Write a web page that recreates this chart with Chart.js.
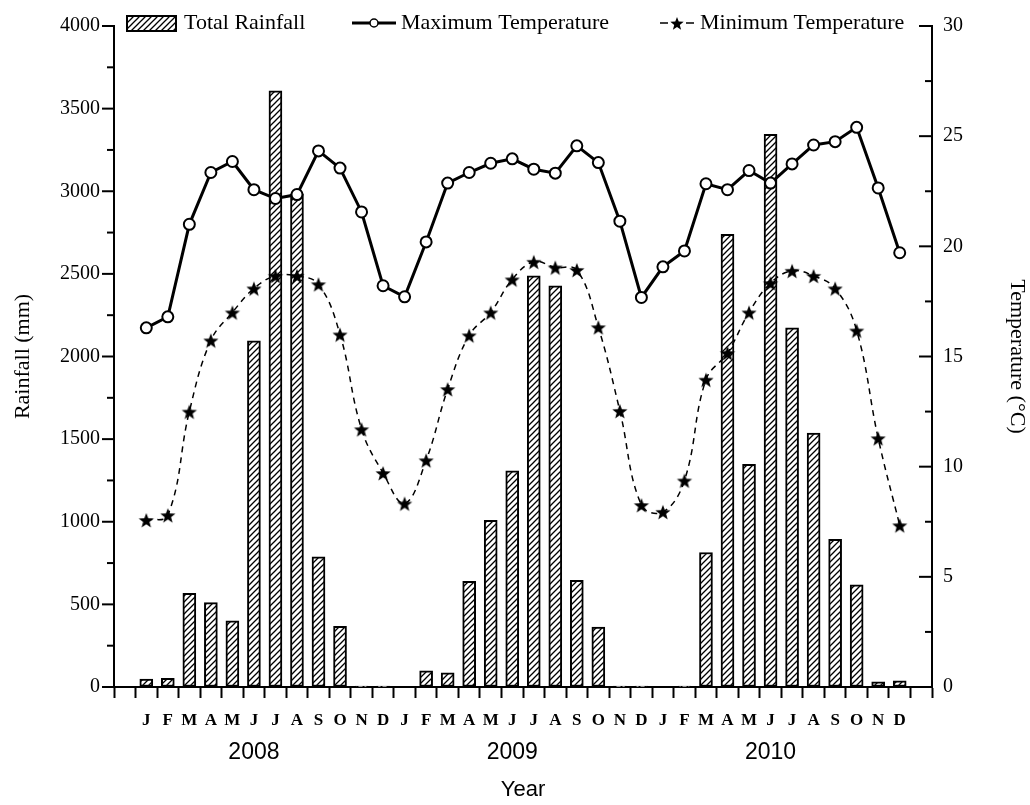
<!DOCTYPE html>
<html>
<head>
<meta charset="utf-8">
<script src="https://cdn.jsdelivr.net/npm/chart.js@4.4.0/dist/chart.umd.min.js"></script>
<style>
  html, body { margin: 0; padding: 0; background: #fff; }
</style>
</head>
<body>
<canvas id="main_chart" width="1030" height="805"></canvas>
<script>
const month_letters = ['J', 'F', 'M', 'A', 'M', 'J', 'J', 'A', 'S', 'O', 'N', 'D'];
const years = ['2008', '2009', '2010'];

// monthly totals, mm (Jan 2008 .. Dec 2010)
const rainfall = [
  48, 52, 567, 511, 401, 2095, 3607, 2985, 788, 367, 5, 5,
  0, 98, 86, 640, 1009, 1308, 2488, 2428, 646, 363, 5, 5,
  0, 5, 814, 2740, 1347, 3344, 2173, 1536, 894, 619, 32, 38,
];

// °C
const max_temp = [
  16.3, 16.8, 21.0, 23.35, 23.85, 22.57, 22.17, 22.35, 24.33, 23.55, 21.56, 18.21,
  17.71, 20.2, 22.87, 23.35, 23.77, 23.97, 23.5, 23.32, 24.56, 23.8, 21.14, 17.68,
  19.07, 19.79, 22.84, 22.57, 23.44, 22.87, 23.74, 24.6, 24.75, 25.4, 22.65, 19.71,
];

const min_temp = [
  7.58, 7.8, 12.5, 15.73, 17.0, 18.09, 18.66, 18.66, 18.28, 16.0, 11.7, 9.71,
  8.33, 10.29, 13.52, 15.96, 17.0, 18.5, 19.3, 19.04, 18.93, 16.33, 12.53, 8.26,
  7.95, 9.37, 13.95, 15.16, 17.0, 18.33, 18.89, 18.66, 18.09, 16.18, 11.29, 7.34,
];

const serif = 'Liberation Serif';
const sans = 'Liberation Sans';

Chart.defaults.font.family = serif;
Chart.defaults.color = '#000';

const make_hatch = (ctx) => {
  const c = document.createElement('canvas');
  c.width = 6;
  c.height = 6;
  const g = c.getContext('2d');
  g.fillStyle = '#fff';
  g.fillRect(0, 0, 6, 6);
  g.strokeStyle = '#000';
  g.lineWidth = 1.3;
  g.beginPath();
  g.moveTo(0, 6); g.lineTo(6, 0);
  g.moveTo(-3, 3); g.lineTo(3, -3);
  g.moveTo(3, 9); g.lineTo(9, 3);
  g.stroke();
  return ctx.createPattern(c, 'repeat');
};

const make_star = (r) => {
  const size = Math.ceil(r * 2 + 2);
  const c = document.createElement('canvas');
  c.width = size;
  c.height = size;
  const g = c.getContext('2d');
  g.fillStyle = '#000';
  g.beginPath();
  for (let k = 0; k < 10; k++) {
    const rad = k % 2 ? r * 0.42 : r;
    const a = -Math.PI / 2 + k * Math.PI / 5;
    g.lineTo(size / 2 + rad * Math.cos(a), size / 2 + 1 + rad * Math.sin(a));
  }
  g.closePath();
  g.fill();
  return c;
};

const canvas = document.getElementById('main_chart');
const hatch = make_hatch(canvas.getContext('2d'));
const star = make_star(8);
const small_star = make_star(7);

const by_month = (arr) => arr.map((v, i) => ({ x: i + 1, y: v }));

// inward ticks on the right axis, long/short ticks on the left one
const axis_ticks = {
  id: 'axis_ticks',
  afterDraw(chart) {
    const { ctx } = chart;
    const y = chart.scales.y;
    const y1 = chart.scales.y1;
    ctx.save();
    ctx.strokeStyle = '#000';
    ctx.lineWidth = 2;
    y.ticks.forEach(t => {
      const py = y.getPixelForValue(t.value);
      const len = t.value % 500 === 0 ? 12 : 7;
      ctx.beginPath();
      ctx.moveTo(y.right - len, py);
      ctx.lineTo(y.right, py);
      ctx.stroke();
    });
    y1.ticks.forEach(t => {
      const py = y1.getPixelForValue(t.value);
      const len = t.value % 5 === 0 ? 13 : 7;
      ctx.beginPath();
      ctx.moveTo(y1.left, py);
      ctx.lineTo(y1.left - len, py);
      ctx.stroke();
    });
    ctx.restore();
  }
};

// year names under each run of twelve months
const year_row = {
  id: 'year_row',
  afterDraw(chart) {
    const { ctx } = chart;
    const x = chart.scales.x;
    ctx.save();
    ctx.font = '23px ' + sans;
    ctx.fillStyle = '#000';
    ctx.textAlign = 'center';
    ctx.textBaseline = 'middle';
    years.forEach((yr, i) => {
      ctx.fillText(yr, x.getPixelForValue(6 + i * 12), 753);
    });
    ctx.restore();
  }
};

const legend_row = {
  id: 'legend_row',
  afterDraw(chart) {
    const { ctx } = chart;
    const ds = chart.data.datasets;
    const cy = 23;
    ctx.save();
    ctx.font = '22px ' + serif;
    ctx.fillStyle = '#000';
    ctx.textBaseline = 'middle';

    // rainfall box
    ctx.fillStyle = hatch;
    ctx.fillRect(127, cy - 7, 49, 15);
    ctx.strokeStyle = '#000';
    ctx.lineWidth = 2;
    ctx.strokeRect(127, cy - 7, 49, 15);
    ctx.fillStyle = '#000';
    ctx.fillText(ds[0].label, 184, cy);

    // max temperature
    ctx.lineWidth = 3;
    ctx.beginPath();
    ctx.moveTo(352, cy);
    ctx.lineTo(396, cy);
    ctx.stroke();
    ctx.beginPath();
    ctx.arc(374, cy, 4, 0, Math.PI * 2);
    ctx.fillStyle = '#fff';
    ctx.fill();
    ctx.lineWidth = 1.5;
    ctx.stroke();
    ctx.fillStyle = '#000';
    ctx.fillText(ds[1].label, 401, cy);

    // min temperature
    ctx.lineWidth = 1.5;
    ctx.beginPath();
    ctx.moveTo(660, cy); ctx.lineTo(668, cy);
    ctx.moveTo(686, cy); ctx.lineTo(694, cy);
    ctx.stroke();
    ctx.drawImage(small_star, 677 - small_star.width / 2, cy - small_star.height / 2);
    ctx.fillText(ds[2].label, 700, cy);
    ctx.restore();
  }
};

new Chart(canvas, {
  type: 'bar',
  data: {
    datasets: [
      {
        type: 'bar',
        label: 'Total Rainfall',
        data: by_month(rainfall),
        xAxisID: 'x',
        yAxisID: 'y',
        backgroundColor: hatch,
        borderColor: '#000',
        borderWidth: 2,
        borderSkipped: false,
        barThickness: 13,
        order: 3,
      },
      {
        type: 'line',
        label: 'Maximum Temperature',
        data: by_month(max_temp),
        xAxisID: 'x',
        yAxisID: 'y1',
        borderColor: '#000',
        borderWidth: 3,
        tension: 0,
        pointRadius: 5.5,
        pointBorderWidth: 2,
        pointBackgroundColor: '#fff',
        pointBorderColor: '#000',
        order: 1,
      },
      {
        type: 'line',
        label: 'Minimum Temperature',
        data: by_month(min_temp),
        xAxisID: 'x',
        yAxisID: 'y1',
        borderColor: '#000',
        borderWidth: 1.5,
        borderDash: [6, 5],
        tension: 0.4,
        pointStyle: star,
        pointRadius: 8,
        order: 2,
      },
    ],
  },
  options: {
    responsive: false,
    animation: false,
    layout: { padding: { top: 22, left: 0, right: 0, bottom: 0 } },
    plugins: {
      legend: { display: false },
      tooltip: { enabled: false },
    },
    scales: {
      x: {
        type: 'linear',
        position: 'bottom',
        min: 0,
        max: 37,
        afterFit: s => { s.height = 118; },
        grid: {
          drawOnChartArea: false,
          tickLength: 11,
          tickWidth: 2,
          tickColor: '#000',
        },
        border: { color: '#000', width: 2 },
        ticks: {
          stepSize: 1,
          maxTicksLimit: 50,
          autoSkip: false,
          maxRotation: 0,
          padding: 12,
          font: { family: serif, size: 17, weight: 'bold' },
          callback: v => (v >= 1 && v <= 36) ? month_letters[(v - 1) % 12] : '',
        },
        title: {
          display: true,
          text: 'Year',
          font: { family: sans, size: 22 },
          padding: { top: 0, bottom: 2 },
        },
      },
      y: {
        position: 'left',
        min: 0,
        max: 4000,
        afterFit: s => { s.width = 114; },
        grid: { drawOnChartArea: false, drawTicks: false },
        border: { color: '#000', width: 2 },
        ticks: {
          stepSize: 250,
          padding: 14,
          font: { family: serif, size: 20 },
          callback: v => v % 500 === 0 ? v : '',
        },
        title: {
          display: true,
          text: 'Rainfall (mm)',
          font: { family: serif, size: 22 },
          padding: { top: 10, bottom: 0 },
        },
      },
      y1: {
        position: 'right',
        min: 0,
        max: 30,
        afterFit: s => { s.width = 98; },
        grid: { drawOnChartArea: false, drawTicks: false },
        border: { color: '#000', width: 2 },
        ticks: {
          stepSize: 2.5,
          padding: 11,
          font: { family: serif, size: 20 },
          callback: v => v % 5 === 0 ? v : '',
        },
        title: {
          display: true,
          text: 'Temperature (\u00B0C)',
          font: { family: serif, size: 22 },
          padding: { top: 0, bottom: 0 },
        },
      },
    },
  },
  plugins: [axis_ticks, year_row, legend_row],
});
</script>
</body>
</html>
